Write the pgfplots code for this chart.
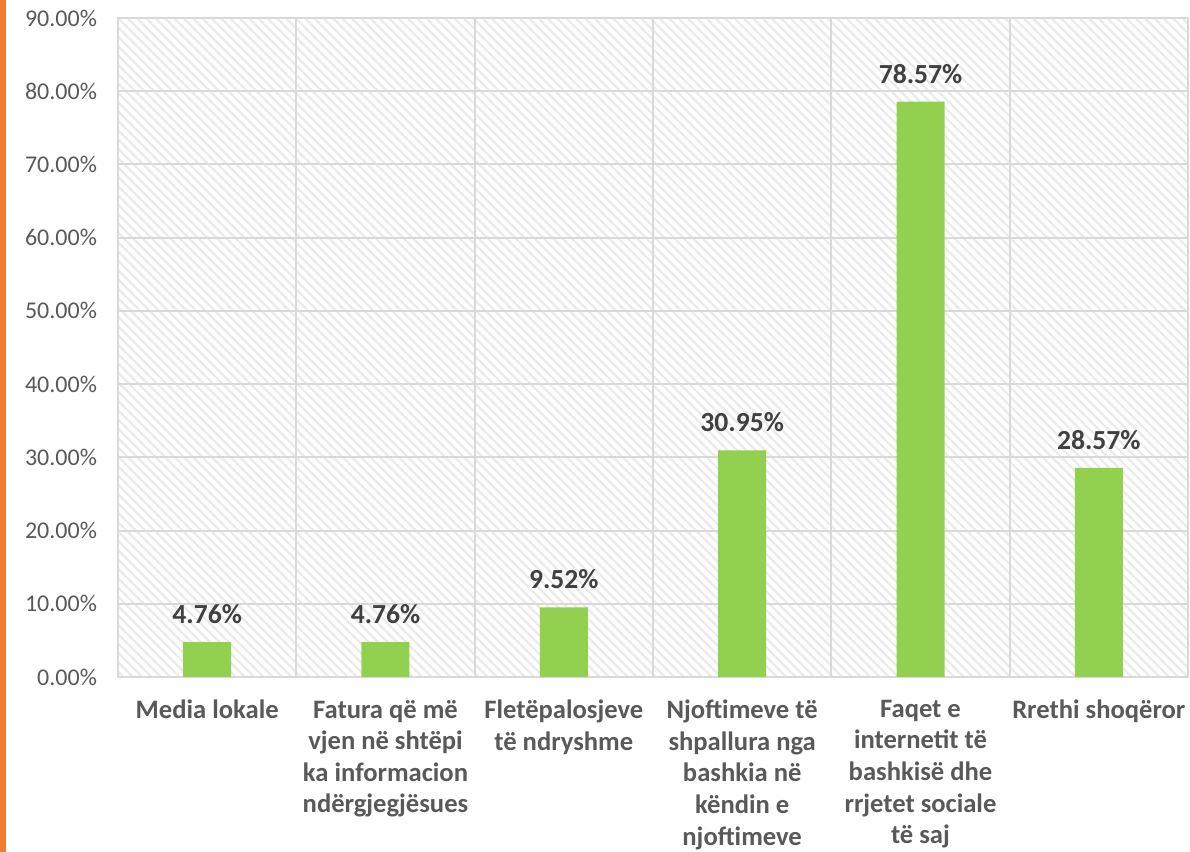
\documentclass[border=0pt]{standalone}
\usepackage{pgfplots}
\pgfplotsset{compat=1.18}
\usepackage{fontspec}
\setmainfont{Carlito}
\usetikzlibrary{patterns.meta}
\definecolor{barg}{HTML}{92D050}
\definecolor{orng}{HTML}{ED7D31}
\definecolor{gridc}{HTML}{D9D9D9}
\definecolor{tickc}{HTML}{595959}
\definecolor{lblc}{HTML}{404040}
\begin{document}
\begin{tikzpicture}
\useasboundingbox (0,0) rectangle (595pt,426pt);
\fill[orng] (0,0) rectangle (3.2pt,426pt);
\begin{axis}[
  at={(59pt,87.5pt)}, anchor=south west,
  scale only axis, width=535pt, height=329.5pt,
  ymin=0, ymax=90, ytick={0,10,...,90},
  xmin=-0.5, xmax=5.5, xtick={0,...,5},
  minor xtick={0.5,1.5,2.5,3.5,4.5},
  xticklabels={Media lokale,
    {Fatura që më\\vjen në shtëpi\\ka informacion\\ndërgjegjësues},
    {Fletëpalosjeve\\të ndryshme},
    {Njoftimeve të\\shpallura nga\\bashkia në\\këndin e\\njoftimeve},
    {Faqet e\\internetit të\\bashkisë dhe\\rrjetet sociale\\të saj},
    Rrethi shoqëror},
  xticklabel style={align=center, font=\fontsize{13.3}{15.8}\selectfont\bfseries, text=tickc, anchor=north, yshift=-8pt},
  yticklabel={\pgfmathprintnumber[fixed,fixed zerofill,precision=2]{\tick}\%},
  yticklabel style={font=\fontsize{12}{14}\selectfont, text=tickc, xshift=-7pt},
  /pgf/number format/assume math mode=true,
  major tick length=0pt, minor tick length=0pt,
  ymajorgrids, xminorgrids,
  grid style={gridc, line width=1pt},
  minor grid style={gridc, line width=1pt},
  axis line style={gridc, line width=1pt},
  axis background/.style={pattern={Lines[angle=-45,distance=3.3pt,line width=1.1pt]}, pattern color=gridc!55},
  ybar, bar width=24pt,
  nodes near coords={\pgfmathprintnumber[fixed,fixed zerofill,precision=2]{\pgfplotspointmeta}\%},
  every node near coord/.append style={font=\fontsize{13.8}{16}\selectfont\bfseries, text=lblc, anchor=center, yshift=14pt},
]
\addplot[fill=barg, draw=none] coordinates {(0,4.76) (1,4.76) (2,9.52) (3,30.95) (4,78.57) (5,28.57)};
\end{axis}
\end{tikzpicture}
\end{document}
